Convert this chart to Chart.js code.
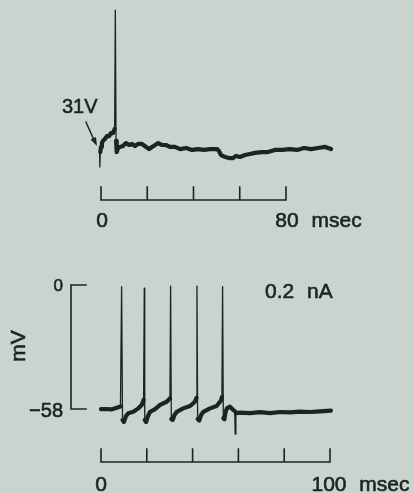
<!DOCTYPE html>
<html>
<head>
<meta charset="utf-8">
<script src="https://cdn.jsdelivr.net/npm/chart.js@4"></script>
<style>
  html, body { margin: 0; padding: 0; background: #c8d4cd; }
  canvas { display: block; }
</style>
</head>
<body>
<canvas id="traceChart" width="414" height="493"></canvas>
<script>
// upper trace: response to a 31 V stimulus (msec, mV)
const topTime = [-0.6, -0.5, -0.3, 0.0, 0.4, 1.1, 1.7, 2.6, 3.5, 4.3, 5.2, 5.9, 6.2, 6.5, 6.8, 7.4, 8.2, 9.5,
  10.8, 12.1, 13.4, 14.7, 16.0, 17.7, 19.5, 20.8, 22.1, 23.4, 24.7, 26.4, 28.1, 29.8, 32.0, 34.2, 36.8, 39.4,
  41.9, 44.5, 47.1, 50.2, 51.0, 51.9, 53.6, 55.4, 57.1, 58.4, 60.1, 62.3, 64.4, 66.6, 69.6, 72.2, 75.2, 78.3,
  81.7, 84.8, 87.8, 90.8, 93.8, 96.9, 99.5];
const topVolt = [-60.5, -68.9, -61.9, -59.5, -57.7, -56.3, -55.8, -54.4, -54.4, -53.0, -53.0, -51.1, 4.5, -56.7, -61.9, -60.0, -59.5, -59.1,
  -57.7, -58.6, -58.1, -59.1, -58.1, -58.1, -59.5, -60.5, -59.5, -58.6, -57.7, -58.6, -58.6, -59.5, -59.5, -60.5, -60.0, -60.9,
  -60.5, -60.9, -60.5, -60.5, -61.4, -63.3, -64.2, -64.7, -64.7, -63.7, -64.2, -63.3, -62.8, -62.3, -61.9, -61.9, -60.9, -60.9,
  -60.5, -60.9, -60.0, -60.5, -60.0, -59.5, -60.5];

// lower trace: 0.2 nA current step (msec, mV)
const botTime = [0.0, 2.2, 4.4, 6.6, 8.5, 9.0, 9.4, 10.0, 10.9, 11.9, 14.1, 16.3, 17.8, 18.6,
  18.9, 19.1, 19.7, 20.5, 21.4, 23.6, 25.8, 28.7, 30.1,
  30.4, 30.7, 31.3, 32.1, 33.1, 35.9, 38.9, 41.0, 41.7,
  41.9, 42.2, 42.9, 43.7, 44.7, 47.6, 50.5, 52.4, 52.8,
  53.1, 53.4, 53.9, 54.4, 55.0, 56.3, 57.8, 58.4, 58.6, 58.9,
  60.7, 65.1, 69.4, 73.8, 78.2, 82.5, 86.9, 91.3, 95.6, 100.4];
const botVolt = [-58.1, -58.0, -58.2, -57.5, -56.8, -0.8, -63.1, -64.1, -61.3, -60.0, -59.3, -57.7, -56.1, -53.8,
  -1.5, -63.1, -64.1, -61.3, -59.3, -58.1, -56.1, -54.6, -53.0,
  -0.5, -62.7, -63.1, -60.8, -59.3, -57.7, -56.6, -54.6, -52.8,
  -0.5, -62.7, -63.4, -60.8, -59.3, -57.7, -56.6, -54.0, -52.4,
  -0.8, -62.2, -62.8, -59.4, -57.7, -56.9, -58.5, -58.9, -69.7, -59.9,
  -59.7, -59.9, -59.5, -59.9, -59.4, -59.6, -59.2, -59.4, -59.1, -58.8];

// scale bar ticks
const topTicks = [0, 20, 40, 60, 80];
const botTicks = [0, 20, 40, 60, 80, 100];
const voltTicks = [0, -58];

const INK = '#1c2420';
const FONT = '"Liberation Sans", Arial, Helvetica, sans-serif';
const W = 414, H = 493;

// axis range so that value v0 sits at pixel p0 with k px per unit
function xRange(p0, v0, k) { return { min: v0 - p0 / k, max: v0 + (W - p0) / k }; }
function yRange(p0, v0, k) { return { min: v0 - (H - p0) / k, max: v0 + p0 / k }; }

const pts = (xs, ys) => xs.map((x, i) => ({ x: x, y: ys[i] }));

// spikes and artefacts are drawn with a fine pen, the rest with a heavy one
const isFast = v => v > -45 || v < -66;
const segWidth = ctx => (isFast(ctx.p0.parsed.y) || isFast(ctx.p1.parsed.y)) ? 1.3 : 4.2;

// printed type is a little heavier than Liberation Sans regular
function ink(c, text, x, y) {
  c.fillText(text, x, y);
  c.strokeText(text, x, y);
}

const scaleBars = {
  id: 'scaleBars',
  afterDatasetsDraw(chart) {
    const c = chart.ctx;
    const x1 = chart.scales.x1, x2 = chart.scales.x2, y2 = chart.scales.y2;
    c.save();
    c.strokeStyle = INK;
    c.fillStyle = INK;
    c.lineWidth = 1.6;
    c.lineCap = 'square';

    // upper time bar
    const yTop = 200;
    c.beginPath();
    c.moveTo(x1.getPixelForValue(topTicks[0]), yTop);
    c.lineTo(x1.getPixelForValue(topTicks[topTicks.length - 1]), yTop);
    topTicks.forEach(t => {
      const px = x1.getPixelForValue(t);
      c.moveTo(px, yTop);
      c.lineTo(px, yTop - 13);
    });
    c.stroke();

    // lower time bar
    const yBot = 462;
    c.beginPath();
    c.moveTo(x2.getPixelForValue(botTicks[0]), yBot);
    c.lineTo(x2.getPixelForValue(botTicks[botTicks.length - 1]), yBot);
    botTicks.forEach(t => {
      const px = x2.getPixelForValue(t);
      c.moveTo(px, yBot);
      c.lineTo(px, yBot - 13);
    });
    c.stroke();

    // voltage bar
    const xv = 71;
    c.beginPath();
    c.moveTo(xv, y2.getPixelForValue(voltTicks[0]));
    c.lineTo(xv, y2.getPixelForValue(voltTicks[1]));
    voltTicks.forEach(v => {
      const py = y2.getPixelForValue(v);
      c.moveTo(xv, py);
      c.lineTo(xv + 15, py);
    });
    c.stroke();

    // labels
    c.lineWidth = 0.6;
    c.lineJoin = 'round';
    c.font = '21px ' + FONT;
    c.textBaseline = 'alphabetic';
    c.textAlign = 'center';
    ink(c, '0', x1.getPixelForValue(0) + 1, 227);
    ink(c, '0', x2.getPixelForValue(0), 491);

    c.textAlign = 'left';
    c.wordSpacing = '7px';
    let w = c.measureText('80').width;
    ink(c, '80 msec', x1.getPixelForValue(80) + 1 - w / 2, 227);
    w = c.measureText('100').width;
    ink(c, '100 msec', x2.getPixelForValue(100) - 1 - w / 2, 491);
    ink(c, '0.2 nA', 265, 298);
    c.wordSpacing = '0px';

    c.font = '20px ' + FONT;
    ink(c, '31V', 62, 113);

    c.textAlign = 'right';
    ink(c, '\u221258', 63, y2.getPixelForValue(-58) + 8);
    c.font = '17px ' + FONT;
    ink(c, '0', 63, y2.getPixelForValue(0) + 6);

    c.save();
    c.font = '21px ' + FONT;
    c.translate(25, 346);
    c.rotate(-Math.PI / 2);
    c.textAlign = 'center';
    ink(c, 'mV', 0, 0);
    c.restore();

    // stimulus arrow
    c.lineWidth = 1.4;
    c.beginPath();
    c.moveTo(86, 122);
    c.lineTo(94, 140);
    c.stroke();
    c.beginPath();
    c.moveTo(97, 146);
    c.lineTo(90.5, 139.5);
    c.lineTo(96, 137);
    c.closePath();
    c.fill();

    c.restore();
  }
};

new Chart(document.getElementById('traceChart'), {
  type: 'line',
  data: {
    datasets: [
      { data: pts(topTime, topVolt), xAxisID: 'x1', yAxisID: 'y1' },
      { data: pts(botTime, botVolt), xAxisID: 'x2', yAxisID: 'y2' }
    ]
  },
  options: {
    responsive: false,
    devicePixelRatio: 1,
    animation: false,
    layout: { padding: 0 },
    elements: {
      point: { radius: 0 },
      line: {
        borderColor: INK,
        borderWidth: 4.2,
        tension: 0,
        borderCapStyle: 'round',
        borderJoinStyle: 'round'
      }
    },
    datasets: { line: { segment: { borderWidth: segWidth }, clip: false } },
    scales: {
      x1: Object.assign({ type: 'linear', display: false }, xRange(101, 0, 2.3125)),
      y1: Object.assign({ type: 'linear', display: false }, yRange(148, -60, 2.138)),
      x2: Object.assign({ type: 'linear', display: false }, xRange(101, 0, 2.29)),
      y2: Object.assign({ type: 'linear', display: false }, yRange(285, 0, 2.138))
    },
    plugins: { legend: { display: false }, tooltip: { enabled: false } }
  },
  plugins: [scaleBars]
});
</script>
</body>
</html>
